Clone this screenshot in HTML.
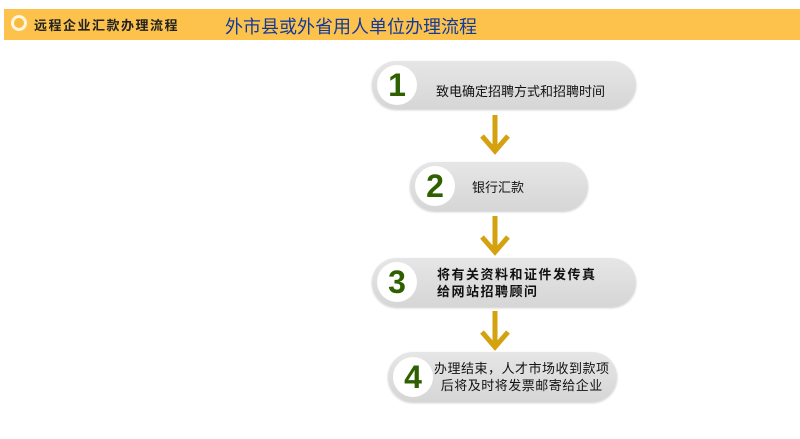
<!DOCTYPE html>
<html><head><meta charset="utf-8"><style>
body{margin:0;width:800px;height:439px;background:#fff;position:relative;overflow:hidden;font-family:"Liberation Sans","Noto Sans CJK SC",sans-serif}
.bar{position:absolute;left:4px;top:9px;width:796px;height:31px;background:#FDC24C}
.ring{position:absolute;left:11px;top:15px;width:10px;height:10px;border-radius:50%;border:3px solid #fff5df;background:#f9bb3f}
.t1{position:absolute;left:34px;top:15px;font-size:13px;font-weight:bold;color:#222;letter-spacing:1.5px}
.t2{position:absolute;left:225px;top:13px;font-size:18px;color:#123a9a}
.pill{position:absolute;background:linear-gradient(#e6e6e6,#d6d6d6);border-radius:26px;box-shadow:0 1px 2px #ccc}
.num{position:absolute;left:5px;top:4px;width:40px;height:40px;border-radius:50%;background:#fff;color:#2f6000;font-weight:bold;font-size:32px;text-align:center;line-height:40px;font-family:"Liberation Sans",sans-serif}
.txt{position:absolute;font-size:13px;color:#111;line-height:17px}
</style></head><body>
<div class="bar"></div><div class="ring"></div>
<div class="t1">远程企业汇款办理流程</div>
<div class="t2">外市县或外省用人单位办理流程</div>

<div class="pill" style="left:372px;top:61px;width:264px;height:48px"><div class="num">1</div><div class="txt" style="left:64px;top:22px">致电确定招聘方式和招聘时间</div></div>
<div class="pill" style="left:410px;top:162px;width:178px;height:49px"><div class="num">2</div><div class="txt" style="left:62px;top:17px">银行汇款</div></div>
<div class="pill" style="left:372px;top:258px;width:264px;height:49px"><div class="num">3</div><div class="txt" style="left:65px;top:8px;font-weight:bold;letter-spacing:1.5px">将有关资料和证件发传真<br>给网站招聘顾问</div></div>
<div class="pill" style="left:388px;top:352px;width:229px;height:50px"><div class="num" style="top:5px">4</div><div class="txt" style="left:46px;top:8px;letter-spacing:0.5px;text-align:center">办理结束，人才市场收到款项<br>后将及时将发票邮寄给企业</div></div>

<svg width="800" height="439" style="position:absolute;left:0;top:0" fill="none" stroke="#D4A20F" stroke-width="5">
<path d="M495 115V149M482 136L495 151L508 136"/>
<path d="M495 216V250M482 237L495 252L508 237"/>
<path d="M495 311V345M482 332L495 347L508 332"/>
</svg>
</body></html>
